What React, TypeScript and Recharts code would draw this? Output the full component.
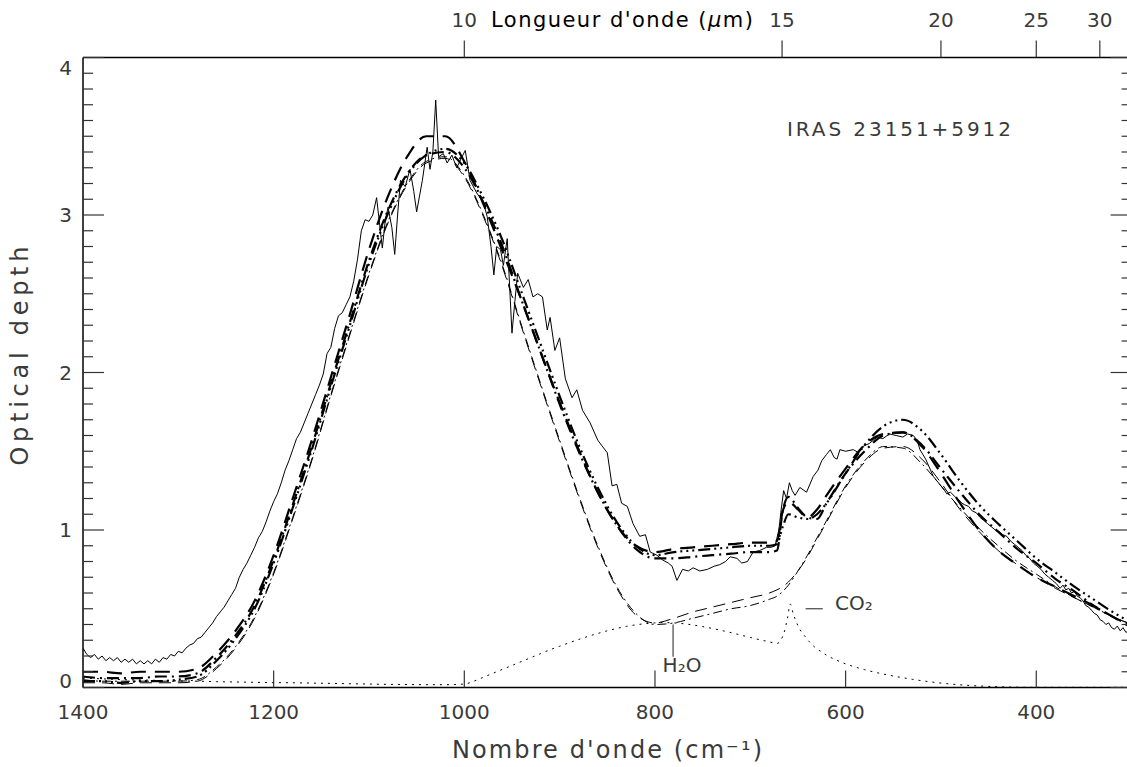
import { LineChart, Line, XAxis, YAxis, ReferenceLine } from "recharts";

// ── Data ─────────────────────────────────────────────────────
// Wavenumber grid (cm-1) shared by the smooth model curves
const modelWn = [
  1400, 1380, 1360, 1340, 1320, 1300, 1280, 1260, 1240, 1220,
  1200, 1180, 1160, 1140, 1120, 1100, 1080, 1060, 1040, 1020,
  1000, 980, 960, 940, 920, 900, 880, 860, 840, 820,
  800, 780, 760, 740, 720, 700, 680, 672, 666, 660,
  650, 640, 630, 620, 600, 580, 560, 540, 520, 500,
  480, 460, 440, 420, 400, 380, 360, 340, 320, 300,
];

// thick long dashes
const fitDashed = [
  0.10, 0.10, 0.09, 0.10, 0.10, 0.10, 0.12, 0.22, 0.36, 0.55,
  0.84, 1.20, 1.57, 1.97, 2.37, 2.78, 3.12, 3.37, 3.50, 3.50,
  3.34, 3.07, 2.77, 2.46, 2.13, 1.81, 1.51, 1.24, 1.03, 0.90,
  0.86, 0.88, 0.89, 0.90, 0.91, 0.92, 0.92, 0.93, 1.12, 1.18,
  1.13, 1.08, 1.13, 1.22, 1.39, 1.54, 1.61, 1.62, 1.53, 1.36,
  1.17, 1.00, 0.87, 0.78, 0.70, 0.64, 0.58, 0.52, 0.45, 0.38,
];

// thick dash-dot
const fitDashDot = [
  0.07, 0.06, 0.06, 0.06, 0.07, 0.07, 0.09, 0.19, 0.33, 0.52,
  0.81, 1.16, 1.53, 1.93, 2.32, 2.71, 3.03, 3.26, 3.38, 3.40,
  3.30, 3.08, 2.80, 2.46, 2.13, 1.80, 1.50, 1.24, 1.03, 0.88,
  0.82, 0.82, 0.83, 0.84, 0.85, 0.86, 0.86, 0.87, 1.12, 1.21,
  1.14, 1.08, 1.07, 1.17, 1.36, 1.50, 1.60, 1.62, 1.54, 1.39,
  1.24, 1.10, 0.99, 0.88, 0.79, 0.69, 0.61, 0.52, 0.45, 0.39,
];

// thick dash-dot-dot-dot
const fitDashDots = [
  0.04, 0.04, 0.03, 0.04, 0.04, 0.05, 0.07, 0.17, 0.31, 0.50,
  0.79, 1.14, 1.51, 1.91, 2.30, 2.69, 3.01, 3.25, 3.38, 3.42,
  3.33, 3.11, 2.84, 2.51, 2.18, 1.85, 1.54, 1.27, 1.05, 0.90,
  0.84, 0.86, 0.87, 0.88, 0.89, 0.90, 0.90, 0.91, 1.02, 1.10,
  1.08, 1.07, 1.10, 1.17, 1.36, 1.54, 1.66, 1.70, 1.63, 1.48,
  1.31, 1.16, 1.04, 0.93, 0.82, 0.73, 0.64, 0.56, 0.48, 0.41,
];

// thin dash-dot (silicate component)
const silicateA = [
  0.05, 0.04, 0.04, 0.04, 0.04, 0.04, 0.05, 0.13, 0.26, 0.45,
  0.73, 1.08, 1.45, 1.86, 2.25, 2.63, 2.96, 3.20, 3.34, 3.37,
  3.25, 3.00, 2.68, 2.30, 1.93, 1.57, 1.22, 0.90, 0.64, 0.47,
  0.40, 0.41, 0.44, 0.47, 0.50, 0.52, 0.56, 0.58, 0.61, 0.65,
  0.74, 0.84, 0.95, 1.06, 1.28, 1.44, 1.53, 1.52, 1.42, 1.28,
  1.14, 1.01, 0.90, 0.80, 0.72, 0.64, 0.57, 0.51, 0.45, 0.40,
];

// thin long dashes (silicate component)
const silicateB = [
  0.03, 0.03, 0.02, 0.03, 0.03, 0.03, 0.04, 0.12, 0.25, 0.44,
  0.72, 1.07, 1.44, 1.85, 2.24, 2.62, 2.95, 3.19, 3.33, 3.36,
  3.24, 2.99, 2.67, 2.29, 1.92, 1.56, 1.21, 0.89, 0.63, 0.46,
  0.41, 0.44, 0.48, 0.51, 0.54, 0.57, 0.60, 0.62, 0.64, 0.67,
  0.74, 0.83, 0.94, 1.05, 1.27, 1.43, 1.52, 1.53, 1.45, 1.30,
  1.13, 0.99, 0.87, 0.78, 0.70, 0.63, 0.57, 0.51, 0.45, 0.40,
];

// dotted: H2O libration + CO2 bending (wn, tau)
const iceBand: [number, number][] = [
  [1400, 0.06], [1380, 0.055], [1360, 0.05], [1340, 0.048], [1320, 0.045],
  [1300, 0.042], [1280, 0.04], [1260, 0.037], [1240, 0.035], [1220, 0.033],
  [1200, 0.031], [1180, 0.03], [1160, 0.028], [1140, 0.026], [1120, 0.024],
  [1100, 0.022], [1080, 0.02], [1060, 0.019], [1040, 0.018], [1020, 0.018],
  [1000, 0.022], [990, 0.04], [980, 0.065], [970, 0.09], [960, 0.115],
  [950, 0.14], [940, 0.165], [930, 0.19], [920, 0.215], [910, 0.24],
  [900, 0.262], [890, 0.284], [880, 0.305], [870, 0.325], [860, 0.343],
  [850, 0.36], [840, 0.375], [830, 0.388], [820, 0.398], [810, 0.405],
  [800, 0.41], [790, 0.412], [780, 0.41], [770, 0.405], [760, 0.397],
  [750, 0.387], [740, 0.375], [730, 0.362], [720, 0.348], [710, 0.333],
  [700, 0.318], [690, 0.303], [680, 0.29], [672, 0.28], [668, 0.3],
  [664, 0.36], [661, 0.44], [658, 0.53], [655, 0.47], [652, 0.42],
  [649, 0.38], [646, 0.35], [642, 0.32], [638, 0.29], [634, 0.265],
  [630, 0.245], [625, 0.225], [620, 0.205], [610, 0.175], [600, 0.15],
  [590, 0.13], [580, 0.113], [570, 0.098], [560, 0.085], [550, 0.073],
  [540, 0.062], [530, 0.052], [520, 0.043], [510, 0.035], [500, 0.028],
  [490, 0.022], [480, 0.017], [470, 0.013], [460, 0.01], [450, 0.007],
  [440, 0.005], [430, 0.003], [420, 0.002], [400, 0.001], [380, 0.001],
  [360, 0.001], [340, 0.001], [320, 0.001], [300, 0.001],
];

// observed optical depth (wn, tau)
const observed: [number, number][] = [
  [1400, 0.25], [1396, 0.21], [1392, 0.19], [1388, 0.21], [1384, 0.18], [1380, 0.2], [1376, 0.17], [1372, 0.19], [1368, 0.17], [1364, 0.19],
  [1360, 0.16], [1356, 0.18], [1352, 0.16], [1348, 0.18], [1344, 0.15], [1340, 0.17], [1336, 0.15], [1332, 0.17], [1328, 0.15], [1324, 0.18],
  [1320, 0.16], [1316, 0.19], [1312, 0.18], [1308, 0.21], [1304, 0.2], [1300, 0.23], [1296, 0.22], [1292, 0.25], [1288, 0.27], [1284, 0.28],
  [1280, 0.31], [1276, 0.32], [1272, 0.35], [1268, 0.38], [1264, 0.41], [1260, 0.45], [1256, 0.48], [1252, 0.51], [1248, 0.55], [1244, 0.59],
  [1240, 0.63], [1236, 0.7], [1232, 0.75], [1228, 0.79], [1224, 0.84], [1220, 0.89], [1216, 0.95], [1212, 0.99], [1208, 1.05], [1204, 1.12],
  [1200, 1.18], [1196, 1.23], [1192, 1.3], [1188, 1.38], [1184, 1.44], [1180, 1.51], [1176, 1.58], [1172, 1.62], [1168, 1.68], [1164, 1.74],
  [1160, 1.8], [1156, 1.86], [1152, 1.92], [1148, 1.99], [1144, 2.12], [1140, 2.16], [1136, 2.28], [1132, 2.36], [1128, 2.38], [1124, 2.43],
  [1120, 2.48], [1116, 2.58], [1112, 2.72], [1108, 2.9], [1104, 2.97], [1100, 2.96], [1096, 3.0], [1092, 3.11], [1089, 2.95], [1086, 2.79],
  [1083, 2.96], [1080, 3.05], [1076, 2.92], [1073, 2.75], [1070, 3.0], [1067, 3.22], [1062, 3.18], [1057, 3.29], [1053, 3.15], [1050, 3.02],
  [1047, 3.12], [1044, 3.22], [1039, 3.43], [1036, 3.29], [1033, 3.4], [1030, 3.73], [1027, 3.37], [1022, 3.39], [1018, 3.33], [1013, 3.38],
  [1008, 3.3], [1004, 3.35], [999, 3.41], [994, 3.22], [987, 3.14], [980, 3.08], [976, 2.99], [972, 2.8], [969, 2.62], [966, 2.8],
  [962, 2.78], [959, 2.68], [955, 2.85], [950, 2.25], [947, 2.45], [944, 2.63], [938, 2.54], [933, 2.59], [928, 2.48], [923, 2.5],
  [918, 2.48], [913, 2.27], [910, 2.35], [905, 2.14], [900, 2.22], [894, 1.96], [887, 1.84], [882, 1.89], [876, 1.76], [868, 1.68],
  [860, 1.57], [850, 1.49], [845, 1.28], [840, 1.29], [835, 1.17], [829, 1.15], [823, 1.04], [816, 0.96], [810, 0.97], [805, 0.86],
  [798, 0.84], [792, 0.81], [786, 0.79], [782, 0.77], [777, 0.68], [771, 0.75], [765, 0.74], [760, 0.76], [753, 0.74], [745, 0.75],
  [738, 0.77], [732, 0.78], [726, 0.8], [721, 0.83], [714, 0.82], [709, 0.79], [703, 0.8], [697, 0.86], [690, 0.87], [683, 0.89],
  [678, 0.89], [674, 0.9], [670, 1.0], [668, 1.11], [665, 1.25], [662, 1.2], [659, 1.3], [656, 1.25], [653, 1.22], [648, 1.27],
  [641, 1.24], [634, 1.34], [629, 1.38], [625, 1.44], [620, 1.48], [616, 1.51], [612, 1.46], [609, 1.45], [606, 1.51], [600, 1.5],
  [592, 1.51], [586, 1.49], [582, 1.53], [575, 1.55], [567, 1.59], [561, 1.58], [554, 1.61], [547, 1.6], [540, 1.59], [535, 1.61],
  [529, 1.6], [525, 1.57], [522, 1.51], [516, 1.45], [508, 1.34], [500, 1.28], [496, 1.25], [494, 1.23], [490, 1.24], [485, 1.21],
  [481, 1.19], [478, 1.17], [475, 1.16], [471, 1.15], [467, 1.12], [463, 1.11], [459, 1.08], [455, 1.06], [451, 1.04], [447, 1.02],
  [443, 1.0], [439, 0.99], [435, 0.97], [431, 0.96], [427, 0.93], [423, 0.91], [419, 0.89], [415, 0.87], [411, 0.84], [407, 0.82],
  [403, 0.79], [399, 0.77], [395, 0.75], [391, 0.72], [387, 0.7], [383, 0.68], [379, 0.66], [375, 0.63], [372, 0.65], [369, 0.62],
  [366, 0.63], [363, 0.6], [360, 0.61], [357, 0.58], [354, 0.57], [351, 0.55], [348, 0.52], [345, 0.51], [342, 0.49], [339, 0.47],
  [336, 0.46], [333, 0.43], [330, 0.42], [327, 0.4], [324, 0.41], [321, 0.38], [318, 0.37], [315, 0.39], [312, 0.36], [309, 0.38],
  [306, 0.35], [303, 0.36], [300, 0.34],
];

// ── Axes ─────────────────────────────────────────────────────
const wnTicks = [1400, 1200, 1000, 800, 600, 400];
const umTicks = [10, 15, 20, 25, 30];
const tauTicks = Array.from({ length: 41 }, (_, i) => i / 10);
const wnDomain = [300, 1400];
const tauDomain = [0, 4];

// annotation markers
const h2oMark = { wn: 781, top: 0.4, bottom: 0.195 };
const co2Mark = { from: 642, to: 624, tau: 0.5 };

const FONT = "'DejaVu Sans', sans-serif";
const INK = "#3a3a3a";

const fromGrid = (values: number[]) => modelWn.map((wn, i) => ({ wn, tau: values[i] }));
const fromPairs = (pairs: [number, number][]) => pairs.map(([wn, tau]) => ({ wn, tau }));

const series = [
  { name: "observed", data: fromPairs(observed), width: 1, dash: undefined, curve: "linear" },
  { name: "fitDashed", data: fromGrid(fitDashed), width: 2.2, dash: "15 9", curve: "monotone" },
  { name: "fitDashDot", data: fromGrid(fitDashDot), width: 2.2, dash: "12 5 2 5", curve: "monotone" },
  { name: "fitDashDots", data: fromGrid(fitDashDots), width: 2.2, dash: "12 4 2 4 2 4 2 4", curve: "monotone" },
  { name: "silicateA", data: fromGrid(silicateA), width: 1, dash: "9 4 2 4", curve: "monotone" },
  { name: "silicateB", data: fromGrid(silicateB), width: 1, dash: "12 7", curve: "monotone" },
  { name: "ice", data: fromPairs(iceBand), width: 1, dash: "2 5", curve: "monotone" },
];

const isMajor = (v: number) => Math.abs(v - Math.round(v)) < 1e-6;

// ── Custom ticks (inward, IDL style) ─────────────────────────

function LeftTick({ x, y, payload }: any) {
  const v = payload.value;
  const major = isMajor(v);
  const shift = v === 0 ? -7 : v === 4 ? 10 : 0;
  return (
    <g>
      <line x1={x} x2={x + (major ? 21 : 10)} y1={y} y2={y} stroke="#333" strokeWidth={1.2} />
      {major && (
        <text x={x - 11} y={y + shift} dy="0.35em" textAnchor="end" fontSize={20} fill={INK} fontFamily={FONT}>
          {Math.round(v)}
        </text>
      )}
    </g>
  );
}

function RightTick({ x, y, payload }: any) {
  const major = isMajor(payload.value);
  return <line x1={x} x2={x - (major ? 21 : 10)} y1={y} y2={y} stroke="#333" strokeWidth={1.2} />;
}

function BottomTick({ x, y, payload }: any) {
  return (
    <g>
      <line x1={x} x2={x} y1={y} y2={y - 17} stroke="#333" strokeWidth={1.2} />
      <text x={x} y={y + 24} dy="0.35em" textAnchor="middle" fontSize={20} fill={INK} fontFamily={FONT}>
        {payload.value}
      </text>
    </g>
  );
}

function TopTick({ x, y, payload }: any) {
  return (
    <g>
      <line x1={x} x2={x} y1={y} y2={y - 17} stroke="#333" strokeWidth={1.2} />
      <text x={x} y={y - 37.5} dy="0.35em" textAnchor="middle" fontSize={20} fill={INK} fontFamily={FONT}>
        {Math.round(10000 / payload.value)}
      </text>
    </g>
  );
}

// ── Chart ────────────────────────────────────────────────────

export default function App() {
  return (
    <div
      style={{
        position: "fixed",
        left: 0,
        top: 0,
        width: 1127,
        height: 767,
        overflow: "hidden",
        background: "#fff",
      }}
    >
      <LineChart width={1140} height={767} margin={{ top: 0, right: 0, bottom: 0, left: 0 }}>
        <XAxis
          xAxisId="bottom"
          orientation="bottom"
          type="number"
          dataKey="wn"
          domain={wnDomain}
          reversed
          allowDataOverflow
          ticks={wnTicks}
          interval={0}
          height={79.5}
          tickSize={0}
          tickMargin={0}
          tickLine={false}
          tick={<BottomTick />}
          axisLine={{ stroke: "#000", strokeWidth: 1.5 }}
        />
        <XAxis
          xAxisId="top"
          orientation="top"
          type="number"
          dataKey="wn"
          domain={wnDomain}
          reversed
          allowDataOverflow
          ticks={umTicks.map((um) => 10000 / um)}
          interval={0}
          height={57.5}
          tickSize={0}
          tickMargin={0}
          tickLine={false}
          tick={<TopTick />}
          axisLine={{ stroke: "#000", strokeWidth: 1.5 }}
        />
        <YAxis
          yAxisId="left"
          orientation="left"
          type="number"
          domain={tauDomain}
          allowDataOverflow
          ticks={tauTicks}
          interval={0}
          width={83}
          tickSize={0}
          tickMargin={0}
          tickLine={false}
          tick={<LeftTick />}
          axisLine={{ stroke: "#000", strokeWidth: 1.5 }}
        />
        <YAxis
          yAxisId="right"
          orientation="right"
          type="number"
          domain={tauDomain}
          allowDataOverflow
          ticks={tauTicks}
          interval={0}
          width={8.4}
          tickSize={0}
          tickMargin={0}
          tickLine={false}
          tick={<RightTick />}
          axisLine={{ stroke: "#000", strokeWidth: 1.5 }}
        />

        {series.map((s) => (
          <Line
            key={s.name}
            xAxisId="bottom"
            yAxisId="left"
            data={s.data}
            dataKey="tau"
            type={s.curve as any}
            stroke="#000"
            strokeWidth={s.width}
            strokeDasharray={s.dash}
            dot={false}
            activeDot={false}
            isAnimationActive={false}
          />
        ))}

        <ReferenceLine
          xAxisId="bottom"
          yAxisId="left"
          segment={[
            { x: h2oMark.wn, y: h2oMark.top },
            { x: h2oMark.wn, y: h2oMark.bottom },
          ]}
          stroke="#444"
          strokeWidth={1.2}
        />
        <ReferenceLine
          xAxisId="bottom"
          yAxisId="left"
          segment={[
            { x: co2Mark.from, y: co2Mark.tau },
            { x: co2Mark.to, y: co2Mark.tau },
          ]}
          stroke="#444"
          strokeWidth={1.2}
        />

        <g fontFamily={FONT}>
          <text x={491} y={20} dy="0.35em" fontSize={21} fill="#000" textLength={262} lengthAdjust="spacing">
            Longueur d'onde (<tspan fontStyle="italic">μ</tspan>m)
          </text>
          <text x={607} y={750} dy="0.35em" textAnchor="middle" fontSize={24} fill={INK} textLength={310} lengthAdjust="spacing">
            Nombre d'onde (cm⁻¹)
          </text>
          <text
            x={20}
            y={356}
            dy="0.35em"
            textAnchor="middle"
            fontSize={24}
            fill={INK}
            transform="rotate(-90 20 356)"
            textLength={219}
            lengthAdjust="spacing"
          >
            Optical depth
          </text>
          <text x={787} y={129} dy="0.35em" fontSize={20} fill={INK} textLength={224} lengthAdjust="spacing">
            IRAS 23151+5912
          </text>
          <text x={682} y={665} dy="0.35em" textAnchor="middle" fontSize={20} fill={INK}>
            H₂O
          </text>
          <text x={835} y={603} dy="0.35em" fontSize={20} fill={INK}>
            CO₂
          </text>
        </g>
      </LineChart>
    </div>
  );
}
